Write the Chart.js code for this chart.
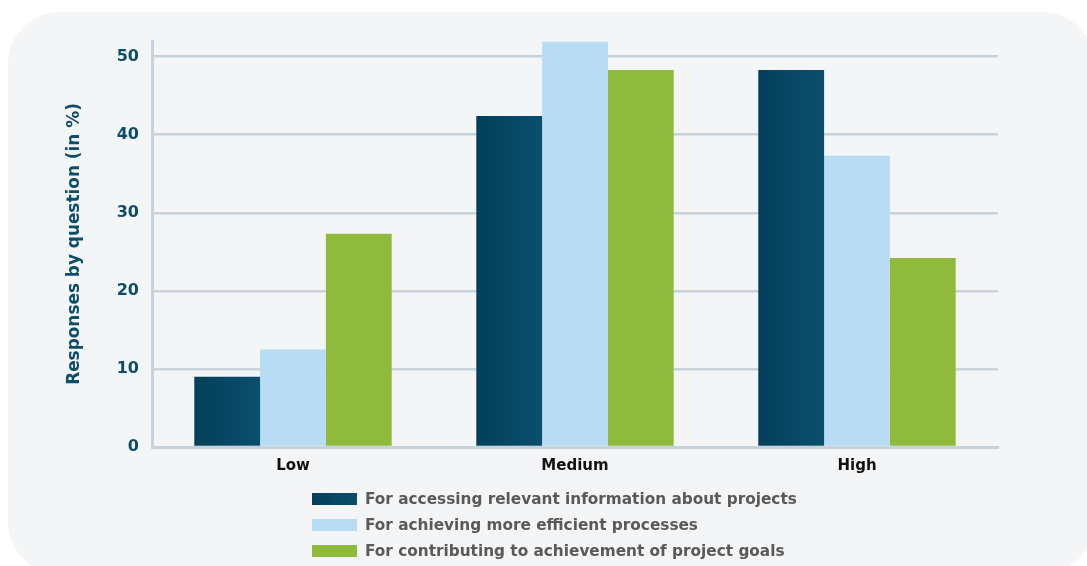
<!DOCTYPE html>
<html>
<head>
<meta charset="utf-8">
<script src="https://cdn.jsdelivr.net/npm/chart.js@4"></script>
<style>
  html, body { margin: 0; padding: 0; background: #fff; }
  #wrap { position: relative; width: 1087px; height: 566px; overflow: hidden; }
  #panel { position: absolute; left: 8px; top: 12px; width: 1086px; height: 562px;
           background: #f3f5f7; border-radius: 52px; }
  #chart { position: absolute; left: 0; top: 0; }
  #legend { position: absolute; left: 312px; top: 486px; margin: 0; padding: 0; list-style: none;
            font-family: "DejaVu Sans", sans-serif; font-size: 15.3px; font-weight: bold; color: #595959; }
  #legend li { height: 26px; line-height: 26px; display: flex; align-items: center; }
  #legend span.box { display: inline-block; width: 45px; height: 12px; margin-right: 8px; }
</style>
</head>
<body>
<div id="wrap">
  <div id="panel"></div>
  <canvas id="chart" width="1087" height="566"></canvas>
  <ul id="legend"></ul>
</div>
<script>
const categories = ["Low", "Medium", "High"];
const accessing = [9, 42.4, 48.3];
const efficient = [12.5, 51.9, 37.3];
const goals = [27.3, 48.3, 24.2];
const seriesNames = [
  "For accessing relevant information about projects",
  "For achieving more efficient processes",
  "For contributing to achievement of project goals"
];
const yTicks = [0, 10, 20, 30, 40, 50];

const darkA = "#033f5a", darkB = "#0a4f6d";
const lightBlue = "#b8dcf3";
const green = "#8fba3c";
const gridColor = "#c6d3dc";

// dark bars have a faint left-to-right gradient
function darkFill(ctx) {
  const chart = ctx.chart;
  const xs = chart.scales && chart.scales.x;
  if (!xs || !chart.chartArea || ctx.dataIndex === undefined) return darkB;
  const cw = xs.width / categories.length;
  const bw = cw * 0.7 / 3;
  const cx = xs.getPixelForValue(ctx.dataIndex);
  const g = chart.ctx.createLinearGradient(cx - 1.5 * bw, 0, cx - 0.5 * bw, 0);
  g.addColorStop(0, darkA);
  g.addColorStop(1, darkB);
  return g;
}

const chart = new Chart(document.getElementById("chart"), {
  type: 'bar',
  data: {
    labels: categories,
    datasets: [
      { label: seriesNames[0], data: accessing, backgroundColor: darkFill },
      { label: seriesNames[1], data: efficient, backgroundColor: lightBlue },
      { label: seriesNames[2], data: goals, backgroundColor: green }
    ]
  },
  options: {
    responsive: false,
    animation: false,
    layout: { padding: { left: 0, right: 89, top: 41, bottom: 84 } },
    datasets: { bar: { categoryPercentage: 0.7, barPercentage: 1.0, borderWidth: 0 } },
    plugins: {
      legend: { display: false },
      tooltip: { enabled: false }
    },
    scales: {
      x: {
        grid: { display: false, drawTicks: false },
        border: { display: true, color: gridColor, width: 3 },
        ticks: { color: "#111", padding: 10,
                 font: { family: "DejaVu Sans", size: 15, weight: 'bold' } },
        afterFit: s => { s.height = 35; }
      },
      y: {
        min: 0,
        max: 52,
        afterBuildTicks: s => { s.ticks = yTicks.map(v => ({ value: v })); },
        grid: { color: gridColor, lineWidth: 2.5, drawTicks: false },
        border: { display: true, color: gridColor, width: 3 },
        ticks: { color: "#0b4d6b", padding: 13,
                 font: { family: "DejaVu Sans", size: 16, weight: 'bold' } },
        title: { display: true, text: "Responses by question (in %)", color: "#0b4d6b",
                 padding: { top: 64, bottom: 0 },
                 font: { family: "DejaVu Sans", size: 16.9, weight: 'bold' } },
        afterFit: s => { s.width = 152; }
      }
    }
  }
});

// html legend in a single left-aligned column
const legendEl = document.getElementById("legend");
const swatches = [`linear-gradient(to right, ${darkA}, ${darkB})`, lightBlue, green];
chart.data.datasets.forEach((ds, i) => {
  const li = document.createElement("li");
  const box = document.createElement("span");
  box.className = "box";
  box.style.background = swatches[i];
  li.appendChild(box);
  li.appendChild(document.createTextNode(ds.label));
  legendEl.appendChild(li);
});
</script>
</body>
</html>
